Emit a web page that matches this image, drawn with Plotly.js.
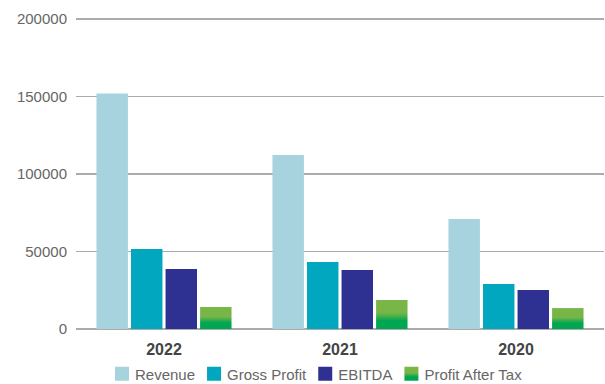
<!DOCTYPE html>
<html><head><meta charset="utf-8">
<script src="https://cdn.plot.ly/plotly-3.0.1.min.js"></script>
<style>html,body{margin:0;padding:0;background:#fff}#chart{width:605px;height:384px}</style>
</head><body><div id="chart"></div>
<script>
const years = ['2022', '2021', '2020'];
const revenue = [152000, 112300, 71000];
const grossProfit = [51600, 43200, 29000];
const ebitda = [38700, 38000, 25200];
const profitAfterTax = [14200, 18700, 13500];
const seriesNames = ['Revenue', 'Gross Profit', 'EBITDA', 'Profit After Tax'];
const colors = ['#A6D3DE', '#00A7BF', '#2E3192', '#4DAE4A'];
const yTicks = [0, 50000, 100000, 150000, 200000];

const vals = [revenue, grossProfit, ebitda, profitAfterTax];
const data = vals.map((v, i) => ({
  type: 'bar', x: years, y: v, name: seriesNames[i],
  marker: {color: colors[i], line: {width: 0}}, hoverinfo: 'none'
}));

const layout = {
  width: 605, height: 384,
  margin: {l: 76, r: 1, t: 16, b: 55},
  paper_bgcolor: '#fff', plot_bgcolor: '#fff',
  barmode: 'group', bargap: 0.215, bargroupgap: 0.09,
  font: {family: 'Liberation Sans, Arial, sans-serif', color: '#666'},
  xaxis: {
    type: 'category', showgrid: false, zeroline: false, showline: false,
    ticks: '', tickfont: {size: 16, color: '#444', weight: 'bold'}, ticklabelstandoff: 9
  },
  yaxis: {
    range: [0, 202000], tickvals: yTicks,
    ticktext: yTicks.map(String),
    showgrid: true, gridcolor: '#ababab', gridwidth: 1.5,
    zeroline: true, zerolinecolor: '#ababab', zerolinewidth: 1.5,
    showline: false, ticks: '', tickfont: {size: 15, color: '#666'}, ticklabelstandoff: 8
  },
  showlegend: true,
  legend: {orientation: 'h', x: 0.5, xanchor: 'center', xref: 'container',
           y: 0.026, yref: 'container', yanchor: 'middle',
           font: {size: 15, color: '#666'}, itemwidth: 30, traceorder: 'normal'}
};

Plotly.newPlot('chart', data, layout, {staticPlot: true, displayModeBar: false}).then(() => {
  const svg = document.querySelector('#chart .main-svg');
  const ns = 'http://www.w3.org/2000/svg';
  let defs = svg.querySelector('defs');
  if (!defs) { defs = document.createElementNS(ns, 'defs'); svg.insertBefore(defs, svg.firstChild); }
  const g = document.createElementNS(ns, 'linearGradient');
  g.setAttribute('id', 'patGrad');
  g.setAttribute('x1', '0'); g.setAttribute('y1', '0'); g.setAttribute('x2', '0'); g.setAttribute('y2', '1');
  [['0', '#7AB648'], ['0.45', '#76B547'], ['0.72', '#00A651'], ['1', '#00A651']].forEach(([o, c]) => {
    const s = document.createElementNS(ns, 'stop');
    s.setAttribute('offset', o); s.setAttribute('stop-color', c);
    g.appendChild(s);
  });
  defs.appendChild(g);
  const traces = document.querySelectorAll('#chart .barlayer .trace.bars');
  if (traces[3]) traces[3].querySelectorAll('path').forEach(p => { p.style.fill = 'url(#patGrad)'; });

  // legend: larger squares sitting closer to their text, compact item spacing
  const legend = document.querySelector('#chart .legend');
  const items = document.querySelectorAll('#chart .legend .traces');
  const lm = (legend.getAttribute('transform') || '').match(/translate\(([-\d.]+)[ ,]*([-\d.]*)/);
  const Lx = lm ? parseFloat(lm[1]) : 0;
  let xs = 115;
  items.forEach((it, i) => {
    it.querySelectorAll('.legendpoints path').forEach(p => {
      p.setAttribute('d', 'M14,7H0V-7H14Z');
      if (i === 3) p.style.fill = 'url(#patGrad)';
    });
    const txt = it.querySelector('text.legendtext');
    const w = txt.getComputedTextLength();
    const tm = (it.getAttribute('transform') || '').match(/translate\(([-\d.]+)[ ,]*([-\d.]*)/);
    const ty = tm && tm[2] !== '' ? parseFloat(tm[2]) : 0;
    it.setAttribute('transform', 'translate(' + (xs - 20 - Lx) + ',' + ty + ')');
    xs = xs + 20 + w + 12;
  });
});
</script></body></html>
